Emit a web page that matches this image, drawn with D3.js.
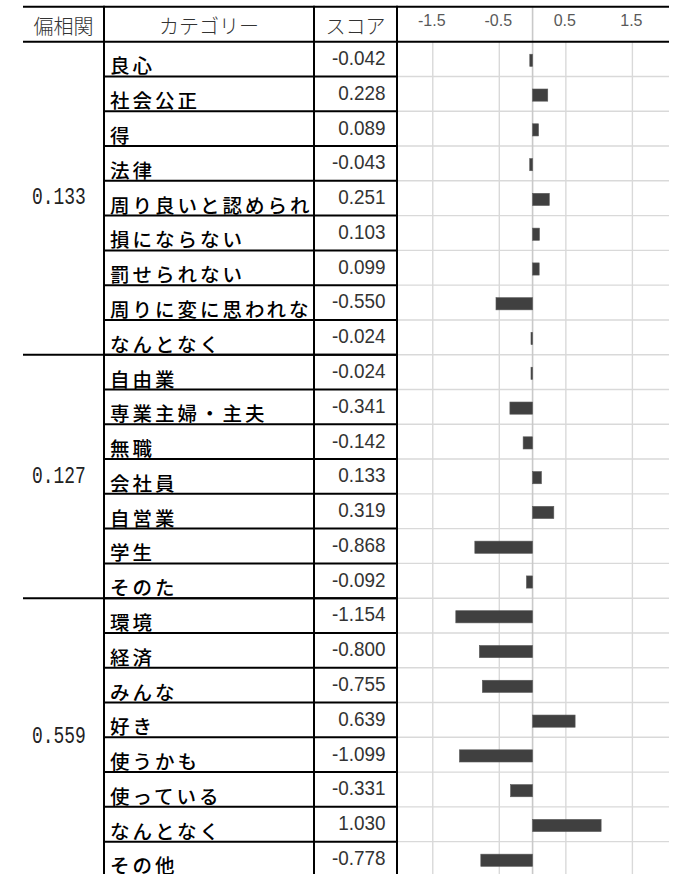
<!DOCTYPE html>
<html><head><meta charset="utf-8">
<script src="https://cdn.jsdelivr.net/npm/d3@7"></script>
<style>
html,body{margin:0;padding:0;background:#fff;}
svg{display:block;}
</style></head>
<body>
<svg id="chart" width="674" height="874"></svg>
<script>
// ---- data ----
const headers = ["偏相関", "カテゴリー", "スコア"];
const groupLabels = ["0.133", "0.127", "0.559"];
const groupSizes = [9, 7, 8];
const categories = [
  "良心", "社会公正", "得", "法律", "周り良いと認められる", "損にならない", "罰せられない", "周りに変に思われない", "なんとなく",
  "自由業", "専業主婦・主夫", "無職", "会社員", "自営業", "学生", "そのた",
  "環境", "経済", "みんな", "好き", "使うかも", "使っている", "なんとなく", "その他"
];
const scores = [
  -0.042, 0.228, 0.089, -0.043, 0.251, 0.103, 0.099, -0.550, -0.024,
  -0.024, -0.341, -0.142, 0.133, 0.319, -0.868, -0.092,
  -1.154, -0.800, -0.755, 0.639, -1.099, -0.331, 1.030, -0.778
];
const tickValues = [-1.5, -0.5, 0.5, 1.5];

// ---- layout ----
const topY = 6.7, headY = 41.7, rowH = 34.78;
const xLeft = 23, xCat = 104, xScore = 314, xChart0 = 397, xChartL = 399.5, xRight = 669;
const nRows = categories.length;

const loc = d3.formatLocale({decimal: ".", thousands: ",", grouping: [3], currency: ["", ""], minus: "-"});
const fmt3 = loc.format(".3f");
const fmt1 = loc.format(".1f");

const svg = d3.select("#chart");
const y = d3.scaleBand().domain(d3.range(nRows)).range([headY, headY + nRows * rowH]).padding(0);
const x = d3.scaleLinear().domain([-2.0, 2.05]).range([xChartL, xRight]);
const bottomY = headY + nRows * rowH;

// chart grid: row lines
svg.append("g").selectAll("line").data(d3.range(1, nRows + 1)).join("line")
  .attr("x1", xChart0).attr("x2", xRight)
  .attr("y1", i => y(i - 1) + y.bandwidth()).attr("y2", i => y(i - 1) + y.bandwidth())
  .attr("stroke", "#d9d9d9").attr("stroke-width", 1.4);

// vertical gridlines
svg.append("g").selectAll("line").data(tickValues).join("line")
  .attr("x1", d => x(d)).attr("x2", d => x(d))
  .attr("y1", headY).attr("y2", bottomY)
  .attr("stroke", "#d9d9d9").attr("stroke-width", 1.4);
// zero line
svg.append("line")
  .attr("x1", x(0)).attr("x2", x(0)).attr("y1", topY).attr("y2", bottomY)
  .attr("stroke", "#c9c9c9").attr("stroke-width", 1.6);

// tick labels
svg.append("g").selectAll("text").data(tickValues).join("text")
  .attr("x", d => x(d) - 1).attr("y", 20)
  .attr("text-anchor", "middle").attr("dominant-baseline", "central")
  .attr("font-family", "'Liberation Sans',sans-serif")
  .attr("font-size", 16).attr("fill", "#595959")
  .text(d => fmt1(d));

// bars
svg.append("g").selectAll("rect").data(scores).join("rect")
  .attr("x", d => Math.min(x(0), x(d)))
  .attr("width", d => Math.abs(x(d) - x(0)))
  .attr("y", (d, i) => y(i) + y.bandwidth() * 0.36)
  .attr("height", y.bandwidth() * 0.35)
  .attr("fill", "#404040").attr("stroke", "#5a5a5a").attr("stroke-width", 0.6);

// ---- table ----
const black = "#000";
svg.append("line").attr("x1", xLeft).attr("x2", xRight).attr("y1", topY).attr("y2", topY)
  .attr("stroke", black).attr("stroke-width", 2);
svg.append("line").attr("x1", xLeft).attr("x2", xRight).attr("y1", headY).attr("y2", headY)
  .attr("stroke", black).attr("stroke-width", 2);

// row borders in category/score columns
svg.append("g").selectAll("line").data(d3.range(1, nRows + 1)).join("line")
  .attr("x1", xCat).attr("x2", xChart0)
  .attr("y1", i => y(i - 1) + y.bandwidth()).attr("y2", i => y(i - 1) + y.bandwidth())
  .attr("stroke", black).attr("stroke-width", 2);

// group separators
const groupStarts = groupSizes.map((s, i) => d3.sum(groupSizes.slice(0, i)));
svg.append("g").selectAll("line").data(groupStarts.slice(1)).join("line")
  .attr("x1", xLeft).attr("x2", xChart0)
  .attr("y1", s => y(s)).attr("y2", s => y(s))
  .attr("stroke", black).attr("stroke-width", 2);

// vertical borders
svg.append("g").selectAll("line").data([xCat, xScore, xChart0]).join("line")
  .attr("x1", d => d).attr("x2", d => d).attr("y1", topY - 1).attr("y2", bottomY)
  .attr("stroke", black).attr("stroke-width", 2);

// headers
const headerX = [(xLeft + xCat) / 2, (xCat + xScore) / 2, (xScore + xChart0) / 2];
svg.append("g").selectAll("text").data(headers).join("text")
  .attr("x", (d, i) => headerX[i]).attr("y", (topY + headY) / 2 + 1)
  .attr("text-anchor", "middle").attr("dominant-baseline", "central")
  .attr("font-family", "'Noto Sans CJK JP',sans-serif").attr("font-weight", 300)
  .attr("font-size", 20).attr("fill", "#333")
  .text(d => d);

// category labels, clipped to their column
svg.append("clipPath").attr("id", "catclip").append("rect")
  .attr("x", xCat).attr("y", headY).attr("width", xScore - xCat - 1.5).attr("height", bottomY - headY);
svg.append("g").attr("clip-path", "url(#catclip)").selectAll("text").data(categories).join("text")
  .attr("x", xCat + 6).attr("y", (d, i) => y(i) + y.bandwidth() - 3)
  .attr("font-family", "'Noto Sans CJK JP',sans-serif").attr("font-weight", 500)
  .attr("font-size", 19.5).attr("letter-spacing", 3).attr("fill", "#000")
  .text(d => d);

// score values (slightly condensed)
svg.append("g").selectAll("text").data(scores).join("text")
  .attr("transform", (d, i) => `translate(385.5,${y(i) + y.bandwidth() / 2 - 1.5}) scale(0.9,1)`)
  .attr("text-anchor", "end").attr("dominant-baseline", "central")
  .attr("font-family", "'Liberation Sans',sans-serif")
  .attr("font-size", 21).attr("fill", "#333")
  .text(d => fmt3(d));

// group labels
svg.append("g").selectAll("text").data(groupLabels).join("text")
  .attr("transform", (d, i) => {
    const cy = (y(groupStarts[i]) + y(groupStarts[i] + groupSizes[i] - 1) + y.bandwidth()) / 2;
    return `translate(32,${cy}) scale(0.78,1)`;
  })
  .attr("dominant-baseline", "central")
  .attr("font-family", "'Liberation Mono','DejaVu Sans Mono',monospace")
  .attr("font-size", 23).attr("fill", "#222")
  .text(d => d);
</script>
</body></html>
